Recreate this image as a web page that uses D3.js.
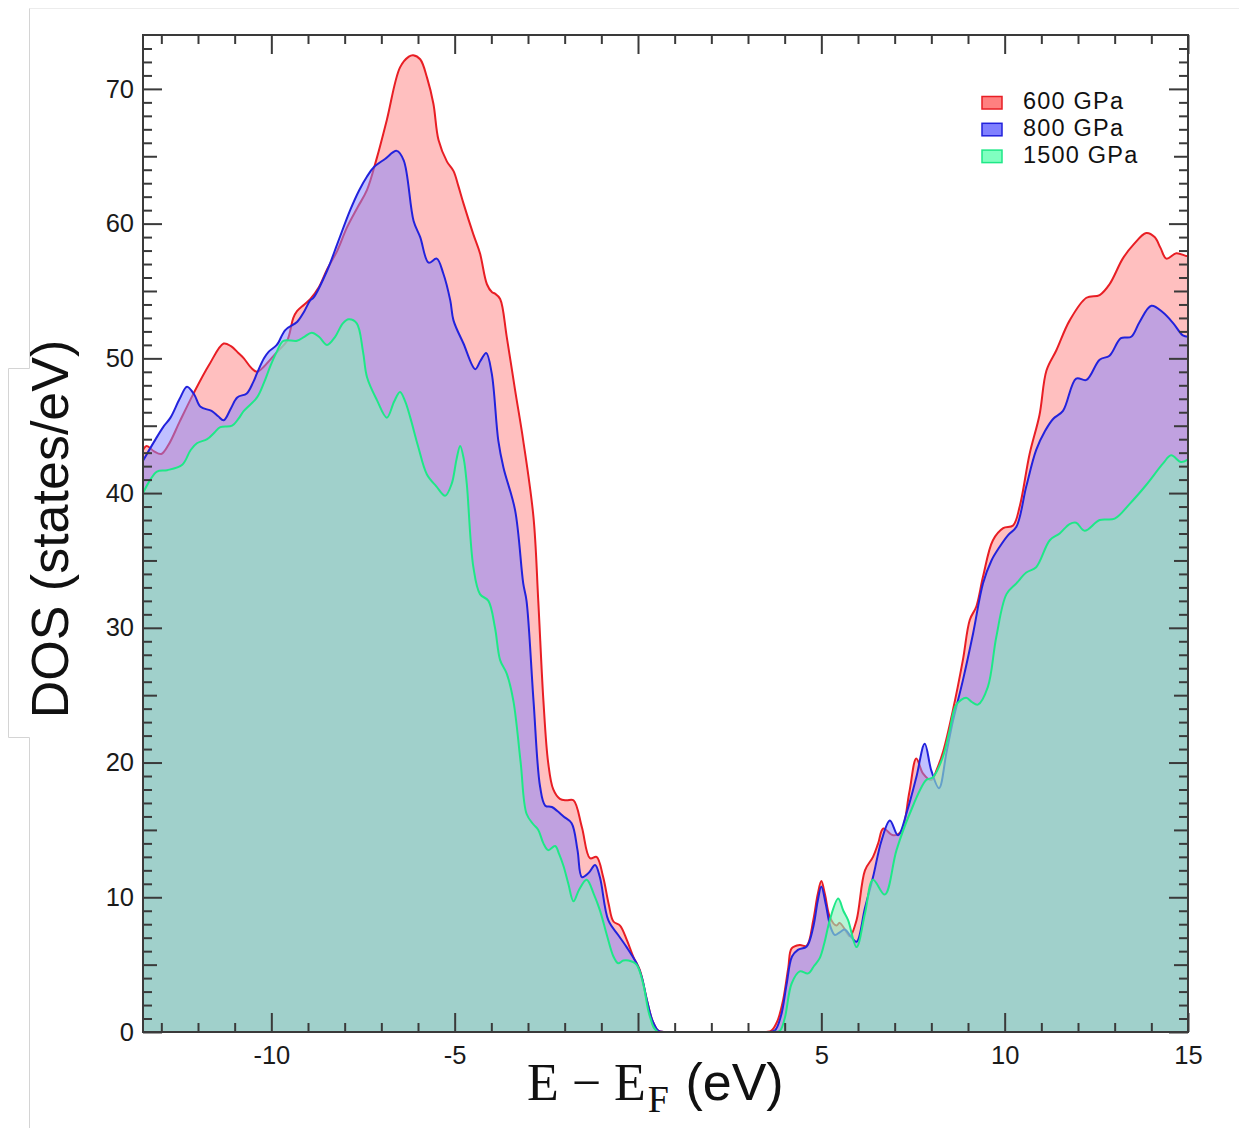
<!DOCTYPE html>
<html>
<head>
<meta charset="utf-8">
<script src="https://cdn.jsdelivr.net/npm/d3@7"></script>
<style>
  html, body { margin: 0; padding: 0; background: #fff; }
  svg { display: block; }
</style>
</head>
<body>
<svg id="chart" width="1239" height="1128"></svg>
<script>
// ---------- DATA ----------
const seriesNames = ["600 GPa", "800 GPa", "1500 GPa"];

const energy600 = [-13.5,-13.4,-13.2,-13.0,-12.8,-12.5,-12.12,-11.7,-11.3,-11.1,-10.9,-10.75,-10.55,-10.39,-10.2,-10.0,-9.8,-9.57,-9.4,-9.3,-9.1,-8.94,-8.7,-8.48,-8.2,-7.94,-7.65,-7.39,-7.12,-6.85,-6.49,-6.25,-6.13,-5.94,-5.75,-5.58,-5.44,-5.21,-5.03,-4.9,-4.76,-4.49,-4.31,-4.12,-3.98,-3.9,-3.76,-3.58,-3.35,-3.13,-2.85,-2.72,-2.58,-2.45,-2.31,-2.13,-1.95,-1.76,-1.53,-1.31,-1.13,-0.95,-0.8,-0.67,-0.49,-0.3,-0.13,0.05,0.24,0.4,0.55,0.7,3.5,3.64,3.8,3.96,4.1,4.19,4.41,4.6,4.78,4.9,5.0,5.1,5.23,5.41,5.5,5.69,5.78,5.96,6.19,6.41,6.55,6.69,6.96,7.18,7.4,7.59,7.77,8.0,8.15,8.32,8.59,8.86,9.05,9.23,9.41,9.68,9.96,10.23,10.41,10.68,10.95,11.14,11.41,11.77,12.23,12.59,12.86,13.22,13.5,13.86,14.09,14.25,14.41,14.68,14.95,15.0];
const dos600 = [43.2,43.5,43.1,42.9,43.6,45.3,47.4,49.5,51.1,50.9,50.4,50.0,49.3,49.0,49.4,50.0,50.6,51.3,53.0,53.5,54.0,54.4,55.3,56.6,58.0,59.7,61.2,62.5,64.9,67.7,71.6,72.4,72.5,72.2,70.8,68.9,66.2,64.6,63.9,62.8,61.5,59.2,57.8,55.5,54.9,54.8,54.4,51.6,47.6,43.9,38.2,32.0,24.6,20.0,18.0,17.3,17.2,17.2,15.2,12.9,13.0,11.5,9.5,8.2,7.9,6.8,5.6,4.6,2.4,0.8,0.1,0,0,0.1,0.8,2.4,4.8,6.2,6.45,6.4,8.3,10.2,11.2,10.2,8.55,7.9,8.1,7.4,7.1,8.3,12.0,13.0,14.0,15.1,14.6,14.9,17.8,20.3,19.2,18.7,19.5,20.8,23.9,27.6,30.6,31.6,33.8,36.5,37.4,37.6,39.0,42.9,45.8,49.1,50.6,52.8,54.5,54.7,55.5,57.4,58.4,59.3,59.0,58.2,57.4,57.8,57.6,57.6];

const energy800 = [-13.5,-13.2,-12.95,-12.75,-12.5,-12.3,-12.1,-11.93,-11.63,-11.45,-11.3,-11.1,-10.93,-10.67,-10.5,-10.39,-10.2,-10.07,-9.85,-9.62,-9.3,-9.1,-8.94,-8.85,-8.48,-8.2,-7.85,-7.6,-7.39,-7.2,-6.9,-6.58,-6.39,-6.12,-5.94,-5.71,-5.49,-5.31,-5.12,-5.03,-4.76,-4.44,-4.3,-4.14,-3.99,-3.81,-3.67,-3.35,-3.13,-3.04,-2.85,-2.67,-2.53,-2.35,-2.2,-2.03,-1.81,-1.65,-1.53,-1.35,-1.17,-1.04,-0.81,-0.54,-0.31,-0.04,0.1,0.24,0.4,0.55,0.7,3.5,3.73,3.9,4.05,4.2,4.36,4.6,4.78,4.9,5.0,5.12,5.25,5.37,5.5,5.64,5.8,5.96,6.19,6.41,6.64,6.87,7.09,7.35,7.59,7.82,8.0,8.21,8.41,8.59,8.86,9.14,9.41,9.64,9.86,10.1,10.32,10.59,10.86,11.1,11.32,11.59,11.95,12.23,12.59,12.86,13.17,13.45,13.68,14.0,14.32,14.6,14.86,15.0];
const dos800 = [42.4,43.8,44.9,45.6,47.0,47.9,47.3,46.4,46.1,45.7,45.4,46.3,47.1,47.4,48.2,48.9,50.0,50.5,51.0,52.1,52.7,53.5,54.3,54.5,56.5,58.5,61.0,62.5,63.5,64.2,64.8,65.4,64.7,60.2,59.0,57.1,57.4,56.3,54.3,52.8,51.1,49.2,49.8,50.4,48.9,43.9,41.9,38.7,33.3,32.0,24.6,18.2,16.8,16.7,16.4,16.0,15.5,13.5,11.5,11.8,12.4,11.5,8.3,7.2,6.3,5.1,4.1,2.4,0.8,0.1,0,0,0.1,1.2,3.5,5.6,6.1,6.35,7.8,9.7,10.8,9.5,7.8,7.2,7.4,7.6,7.1,6.7,9.2,11.5,14.2,15.7,14.6,16.5,18.9,21.4,19.4,18.1,20.7,23.1,26.1,29.6,33.3,35.0,36.0,36.9,37.5,40.5,43.2,44.6,45.5,46.1,48.5,48.4,49.9,50.2,51.5,51.6,52.7,53.9,53.4,52.6,51.7,51.6];

const energy1500 = [-13.5,-13.3,-13.12,-12.84,-12.43,-12.2,-12.03,-11.75,-11.55,-11.39,-11.07,-10.9,-10.75,-10.39,-10.2,-10.03,-9.85,-9.67,-9.3,-9.1,-8.9,-8.7,-8.48,-8.26,-8.05,-7.89,-7.67,-7.5,-7.39,-7.12,-6.85,-6.65,-6.49,-6.35,-6.21,-6.0,-5.76,-5.5,-5.26,-5.08,-4.95,-4.85,-4.75,-4.67,-4.49,-4.31,-4.08,-3.9,-3.76,-3.58,-3.4,-3.2,-3.04,-2.85,-2.72,-2.58,-2.45,-2.26,-2.15,-2.03,-1.9,-1.76,-1.6,-1.4,-1.2,-1.04,-0.85,-0.67,-0.54,-0.4,-0.26,-0.04,0.14,0.33,0.55,3.7,3.87,4.0,4.19,4.41,4.64,4.8,4.96,5.1,5.23,5.46,5.6,5.73,5.96,6.19,6.41,6.73,7.05,7.41,7.86,8.04,8.3,8.5,8.68,8.95,9.1,9.27,9.54,9.77,10.05,10.32,10.59,10.86,11.23,11.5,11.77,11.95,12.18,12.59,13.0,13.41,13.86,14.32,14.54,14.81,15.0];
const dos1500 = [40.0,41.0,41.6,41.7,42.1,43.2,43.7,44.0,44.5,44.9,45.0,45.5,46.1,47.1,48.2,49.4,50.5,51.3,51.3,51.6,51.9,51.6,51.0,51.6,52.6,52.9,52.6,50.5,48.6,46.9,45.6,46.8,47.5,46.8,45.6,43.5,41.4,40.5,39.8,40.7,42.5,43.5,42.5,40.7,34.5,32.5,32.0,30.0,27.6,26.6,24.6,20.0,16.2,15.4,15.0,14.0,13.5,13.8,13.2,12.3,11.0,9.7,10.6,11.3,10.2,9.05,7.2,5.6,5.1,5.3,5.3,5.0,3.6,1.1,0,0,0.1,1.0,3.6,4.5,4.35,4.9,5.5,6.8,8.3,9.9,9.0,8.3,6.3,8.8,11.3,10.2,13.5,16.2,18.7,18.9,20.3,22.4,24.3,24.8,24.5,24.3,25.6,29.3,32.5,33.3,34.1,34.5,36.5,37.0,37.7,37.8,37.2,38.0,38.1,39.2,40.6,42.2,42.8,42.3,42.5];

const xMajorTicks = [-10, -5, 0, 5, 10, 15];
const yMajorTicks = [0, 10, 20, 30, 40, 50, 60, 70];

// ---------- STYLE ----------
const lineColors = ["rgb(232,30,36)", "rgb(34,34,220)", "rgb(30,232,135)"];
const fillColors = ["rgba(255,0,0,0.25)", "rgba(134,134,255,0.52)", "rgba(140,238,190,0.62)"];
const legendFills = ["rgb(255,128,128)", "rgb(128,128,255)", "rgb(128,255,192)"];

const svg = d3.select("#chart");
const W = 1239, H = 1128;
const L = 143, R = 1188, T = 35, B = 1032;

// page artifacts (panel edges)
const art = svg.append("g").attr("fill", "none").attr("stroke", "#d4d4d4").attr("stroke-width", 1);
art.append("line").attr("x1", 29.5).attr("x2", W).attr("y1", 8.5).attr("y2", 8.5).attr("stroke", "#ececec");
art.append("path").attr("d", "M29.5,8.5 V368.5 H8.5 V737.5 H29.5 V1128");

const x = d3.scaleLinear().domain([-13.5, 15]).range([L, R]);
const y = d3.scaleLinear().domain([0, 74]).range([B, T]);

svg.append("defs").append("clipPath").attr("id", "clip")
  .append("rect").attr("x", L).attr("y", T).attr("width", R - L).attr("height", B - T);

const series = [
  { e: energy600, d: dos600 },
  { e: energy800, d: dos800 },
  { e: energy1500, d: dos1500 }
];

const curve = d3.curveCatmullRom.alpha(0.5);
const plot = svg.append("g").attr("clip-path", "url(#clip)");
series.forEach((s, i) => {
  const pts = s.e.map((e, k) => [e, s.d[k]]);
  const area = d3.area().x(p => x(p[0])).y0(y(0)).y1(p => y(p[1])).curve(curve);
  const line = d3.line().x(p => x(p[0])).y(p => y(p[1])).curve(curve);
  plot.append("path").attr("d", area(pts)).attr("fill", fillColors[i]).attr("stroke", "none");
  plot.append("path").attr("d", line(pts)).attr("fill", "none")
    .attr("stroke", lineColors[i]).attr("stroke-width", 2).attr("stroke-linejoin", "round");
});

// ---------- AXES ----------
const axisColor = "#3a3a3a";
const fontSans = "'Liberation Sans', Arial, Helvetica, sans-serif";
const xMinor = d3.range(-13, 15, 1).filter(v => v % 5 !== 0);
const yMinor = d3.range(1, 74, 1).filter(v => v % 5 !== 0);
const yMedium = [5, 15, 25, 35, 45, 55, 65];

function styleAxis(g) {
  g.select(".domain").remove();
  g.selectAll(".tick line").attr("stroke", axisColor).attr("stroke-width", 2);
  g.selectAll(".tick text").attr("fill", "#1a1a1a").style("font-family", fontSans).style("font-size", "25.5px");
}

// bottom
svg.append("g").attr("transform", `translate(0,${B})`)
  .call(d3.axisBottom(x).tickValues(xMajorTicks).tickSize(-19).tickPadding(14)
    .tickFormat(d => d === 0 ? "" : String(d)))
  .call(styleAxis);
svg.append("g").attr("transform", `translate(0,${B})`)
  .call(d3.axisBottom(x).tickValues(xMinor).tickSize(-9).tickFormat(""))
  .call(styleAxis);
// top
svg.append("g").attr("transform", `translate(0,${T})`)
  .call(d3.axisTop(x).tickValues(xMajorTicks).tickSize(-19).tickFormat(""))
  .call(styleAxis);
svg.append("g").attr("transform", `translate(0,${T})`)
  .call(d3.axisTop(x).tickValues(xMinor).tickSize(-9).tickFormat(""))
  .call(styleAxis);
// left
svg.append("g").attr("transform", `translate(${L},0)`)
  .call(d3.axisLeft(y).tickValues(yMajorTicks).tickSize(-19).tickPadding(9)
    .tickFormat(d => String(d)))
  .call(styleAxis);
svg.append("g").attr("transform", `translate(${L},0)`)
  .call(d3.axisLeft(y).tickValues(yMedium).tickSize(-14).tickFormat(""))
  .call(styleAxis);
svg.append("g").attr("transform", `translate(${L},0)`)
  .call(d3.axisLeft(y).tickValues(yMinor).tickSize(-9).tickFormat(""))
  .call(styleAxis);
// right
svg.append("g").attr("transform", `translate(${R},0)`)
  .call(d3.axisRight(y).tickValues(yMajorTicks).tickSize(-19).tickFormat(""))
  .call(styleAxis);
svg.append("g").attr("transform", `translate(${R},0)`)
  .call(d3.axisRight(y).tickValues(yMedium).tickSize(-14).tickFormat(""))
  .call(styleAxis);
svg.append("g").attr("transform", `translate(${R},0)`)
  .call(d3.axisRight(y).tickValues(yMinor).tickSize(-9).tickFormat(""))
  .call(styleAxis);

// frame
svg.append("rect").attr("x", L).attr("y", T).attr("width", R - L).attr("height", B - T)
  .attr("fill", "none").attr("stroke", axisColor).attr("stroke-width", 2);

// ---------- TITLES ----------
svg.append("text")
  .attr("transform", "translate(68,529) rotate(-90)")
  .attr("text-anchor", "middle")
  .style("font-family", fontSans).style("font-size", "52px").attr("fill", "#111")
  .text("DOS (states/eV)");

const xt = svg.append("text").attr("x", 527).attr("y", 1100).attr("fill", "#111");
xt.append("tspan").style("font-family", "'Liberation Serif', 'Times New Roman', serif").style("font-size", "52px")
  .text("E \u2212 E");
xt.append("tspan").attr("dy", 12).attr("dx", 2).style("font-family", "'Liberation Serif', 'Times New Roman', serif").style("font-size", "38px")
  .text("F");
xt.append("tspan").attr("dy", -12).attr("dx", 2).style("font-family", fontSans).style("font-size", "52px")
  .text(" (eV)");

// ---------- LEGEND ----------
const lg = svg.append("g");
seriesNames.forEach((name, i) => {
  const yy = 96.5 + i * 26.8;
  lg.append("rect").attr("x", 982).attr("y", yy).attr("width", 20).attr("height", 12.5)
    .attr("fill", legendFills[i]).attr("stroke", lineColors[i]).attr("stroke-width", 1.5);
  lg.append("text").attr("x", 1023).attr("y", yy + 12.5)
    .style("font-family", fontSans).style("font-size", "23.5px").style("letter-spacing", "1.2px")
    .attr("fill", "#111")
    .text(name);
});
</script>
</body>
</html>
